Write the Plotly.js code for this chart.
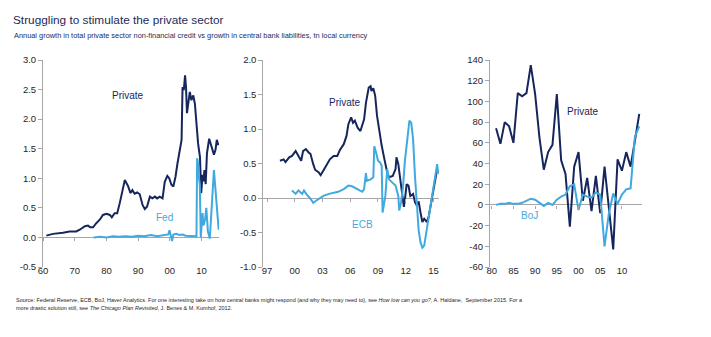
<!DOCTYPE html>
<html>
<head>
<meta charset="utf-8">
<script src="https://cdn.plot.ly/plotly-3.0.1.min.js"></script>
<style>html,body{margin:0;padding:0;background:#fff;}#chart{width:711px;height:337px;}</style>
</head>
<body>
<div id="chart"></div>
<script>
// ---------- Panel 1: US ----------
const usYears = [1961.05,1963.16,1966.3,1968.4,1970.5,1971.6,1973.2,1974.2,1974.9,1975.8,1976.8,1977.9,1978.9,1980.0,1981.1,1981.7,1982.6,1983.4,1984.2,1985.1,1985.8,1986.3,1986.8,1987.6,1988.2,1988.9,1989.7,1990.5,1991.4,1992.1,1992.8,1993.7,1994.5,1995.3,1996.0,1996.8,1997.7,1998.4,1999.2,1999.8,2000.5,2001.1,2001.8,2002.4,2003.2,2003.7,2004.0,2004.4,2004.8,2005.1,2005.4,2005.8,2006.3,2006.8,2007.4,2007.9,2008.4,2008.9,2009.5,2009.9,2010.3,2010.6,2010.9,2011.3,2011.7,2012.4,2012.9,2013.5,2013.9,2014.4,2014.8,2015.3];
const usPrivate = [0.03,0.06,0.08,0.10,0.10,0.13,0.19,0.20,0.17,0.17,0.24,0.30,0.38,0.40,0.38,0.34,0.41,0.41,0.58,0.80,0.97,0.92,0.87,0.75,0.80,0.74,0.76,0.73,0.55,0.48,0.52,0.69,0.66,0.69,0.66,0.69,0.66,0.94,1.04,1.00,0.89,0.86,1.03,1.25,1.48,1.65,2.54,2.49,2.74,2.54,2.10,2.24,2.46,2.32,2.40,2.26,1.87,1.59,1.36,0.75,1.06,0.95,1.14,0.90,1.42,1.67,1.58,1.45,1.40,1.48,1.65,1.56];
const fedYears = [1976,1978,1980,1982,1984,1986,1988,1990,1992,1994,1996,1998,1999.5,1999.9,2000.3,2000.7,2001.1,2002,2003,2004,2005,2006,2007,2008.4,2008.6,2008.9,2009.2,2009.45,2009.75,2010.0,2010.3,2010.6,2011.1,2011.5,2012.0,2012.6,2013.1,2013.6,2013.9,2014.4,2015.0,2015.4];
const fedValues = [0.0,0.01,0.0,0.02,0.01,0.02,0.01,0.03,0.02,0.04,0.02,0.03,0.05,0.12,0.0,-0.06,0.05,0.06,0.04,0.05,0.03,0.03,0.03,0.02,1.34,1.25,1.0,0.9,0.0,0.25,0.41,0.2,0.3,0.5,0.1,-0.02,0.5,0.97,1.14,0.8,0.35,0.13];
const usTickVals = [1960,1970,1980,1990,2000,2010];
const usTickText = ['60','70','80','90','00','10'];
const usYTickVals = [-0.5,0,0.5,1,1.5,2,2.5,3];
const usYTickText = ['-0.5','0.0','0.5','1.0','1.5','2.0','2.5','3.0'];

// ---------- Panel 2: Euro area ----------
const euYears = [1998.4,1998.8,1999.0,1999.4,1999.7,2000.1,2000.4,2000.7,2000.9,2001.2,2001.5,2001.7,2002.0,2002.2,2002.6,2002.8,2003.1,2003.5,2003.8,2004.2,2004.6,2004.9,2005.3,2005.6,2005.8,2006.1,2006.3,2006.5,2006.8,2007.1,2007.4,2007.5,2007.7,2008.0,2008.2,2008.3,2008.5,2008.7,2008.9,2009.2,2009.4,2009.7,2010.0,2010.2,2010.6,2010.9,2011.0,2011.2,2011.4,2011.6,2011.8,2011.9,2012.1,2012.3,2012.5,2012.8,2013.0,2013.2,2013.4,2013.6,2013.8,2014.0,2014.3,2014.5,2014.8,2015.0,2015.3,2015.4,2015.5];
const euPrivate = [0.54,0.56,0.52,0.59,0.61,0.68,0.61,0.54,0.68,0.71,0.66,0.64,0.49,0.41,0.37,0.33,0.40,0.49,0.56,0.61,0.61,0.70,0.78,0.90,1.07,1.17,1.09,1.12,1.02,0.97,1.12,1.14,1.38,1.60,1.62,1.55,1.59,1.48,1.19,0.90,0.76,0.56,0.37,0.30,0.32,0.42,0.59,0.49,0.27,0.13,-0.13,-0.04,0.20,0.18,0.03,0.06,-0.06,-0.11,-0.05,-0.21,-0.35,-0.30,-0.35,-0.26,-0.04,0.13,0.32,0.42,0.37];
const ecbYears = [1999.7,2000.1,2000.4,2000.8,2001.0,2001.3,2001.7,2002.0,2002.3,2002.7,2003.1,2003.7,2004.2,2004.7,2005.3,2005.8,2006.2,2006.7,2007.3,2007.5,2007.7,2007.8,2008.2,2008.5,2008.6,2008.8,2009.0,2009.2,2009.4,2009.5,2009.8,2010.0,2010.2,2010.5,2010.9,2011.2,2011.3,2011.5,2011.7,2011.9,2012.2,2012.4,2012.6,2012.8,2013.0,2013.2,2013.4,2013.6,2013.8,2014.0,2014.3,2014.6,2015.0,2015.2,2015.4,2015.5];
const ecbValues = [0.11,0.06,0.11,0.06,0.11,0.05,-0.01,-0.07,-0.04,-0.01,0.03,0.06,0.07,0.09,0.13,0.18,0.17,0.13,0.09,0.13,0.36,0.25,0.27,0.30,0.75,0.66,0.54,0.52,0.47,-0.21,0.03,0.42,0.27,0.23,0.18,0.03,-0.18,-0.06,0.15,0.52,0.85,1.12,1.09,0.85,0.32,-0.16,-0.47,-0.64,-0.72,-0.69,-0.45,-0.16,0.13,0.32,0.49,0.35];
const euTickVals = [1997,2000,2003,2006,2009,2012,2015];
const euTickText = ['97','00','03','06','09','12','15'];
const euYTickVals = [-1,-0.5,0,0.5,1,1.5,2];
const euYTickText = ['-1.0','-0.5','0.0','0.5','1.0','1.5','2.0'];

// ---------- Panel 3: Japan ----------
const jpYears = [1981,1982,1983,1984,1985,1986,1987,1988,1989,1990,1991,1992,1993,1994,1995,1996,1997,1998,1999,2000,2001,2002,2003,2004,2005,2006,2007,2008,2009,2010,2011,2012,2013,2014];
const jpPrivate = [74,59,80,76,60,108,105,108,135,107,65,34,51,58,107,43,30,-21,37,51,4,26,-6,28,-8,37,-3,-43,44,33,51,37,62,88];
const bojValues = [0,1,1,2,1,1,2,4,6,5,2,-1,2,0,5,8,10,18,20,-5,10,8,7,12,10,-40,-8,11,1,10,15,16,66,76];
const jpTickVals = [1980,1985,1990,1995,2000,2005,2010];
const jpTickText = ['80','85','90','95','00','05','10'];
const jpYTickVals = [-60,-40,-20,0,20,40,60,80,100,120,140];
const jpYTickText = ['-60','-40','-20','0','20','40','60','80','100','120','140'];

// ---------- Styles ----------
const NAVY = '#16265c';
const LIGHT = '#3fa9e0';
const AXIS = '#a6a6a6';
const TXT = '#262626';
const FONT = 'Liberation Sans, Arial, sans-serif';

function line(x, y, color, xa, ya) {
  return {x: x, y: y, type: 'scatter', mode: 'lines', line: {color: color, width: 2}, xaxis: xa, yaxis: ya, hoverinfo: 'skip', showlegend: false};
}

const traces = [
  line(usYears, usPrivate, NAVY, 'x', 'y'),
  line(fedYears, fedValues, LIGHT, 'x', 'y'),
  line(euYears, euPrivate, NAVY, 'x2', 'y2'),
  line(ecbYears, ecbValues, LIGHT, 'x2', 'y2'),
  line(jpYears, jpPrivate, NAVY, 'x3', 'y3'),
  line(jpYears, bojValues, LIGHT, 'x3', 'y3'),
  {x: [], y: [], type: 'scatter', xaxis: 'x4', yaxis: 'y', showlegend: false},
  {x: [], y: [], type: 'scatter', xaxis: 'x5', yaxis: 'y2', showlegend: false},
  {x: [], y: [], type: 'scatter', xaxis: 'x6', yaxis: 'y3', showlegend: false}
];

const W = 711;
const d1 = [43/W, 219/W], d2 = [263.3/W, 439/W], d3 = [490/W, 642.3/W];
const r1 = [1960, 2015.5], r2 = [1996.6, 2015.6], r3 = [1979.6, 2014.7];
const yr1 = [-0.5, 3.0], yr2 = [-1.0, 2.0], yr3 = [-60, 140];

function xax(domain, range, vals, text, anchor) {
  return {domain: domain, range: range, anchor: anchor, tickvals: vals, ticktext: text, showgrid: false, zeroline: false, showline: false, ticks: '', tickfont: {family: FONT, size: 9.5, color: TXT}, ticklabelstandoff: -4, fixedrange: true};
}
function tickax(range, vals, overlay, pos) {
  return {range: range, overlaying: overlay, anchor: 'free', position: pos, tickvals: vals, showticklabels: false, ticks: 'outside', ticklen: 3, tickcolor: AXIS, tickwidth: 1, showgrid: false, zeroline: false, showline: false};
}
function yax(range, vals, text, anchor) {
  return {range: range, anchor: anchor, tickvals: vals, ticktext: text, showgrid: false, zeroline: true, zerolinecolor: AXIS, zerolinewidth: 1, showline: true, linecolor: AXIS, linewidth: 1, ticks: 'outside', ticklen: 4, tickcolor: AXIS, tickfont: {family: FONT, size: 9.5, color: TXT}, fixedrange: true};
}
function zeroPos(r) { return (0 - r[0]) / (r[1] - r[0]); }

const layout = {
  width: 711, height: 337,
  margin: {l: 0, r: 0, t: 60, b: 70, pad: 0},
  paper_bgcolor: '#ffffff', plot_bgcolor: '#ffffff',
  showlegend: false,
  title: {text: 'Struggling to stimulate the private sector', x: 13/W, xanchor: 'left', xref: 'paper', y: 1 - 20/337, yref: 'container', yanchor: 'middle', font: {family: FONT, size: 11.8, color: '#1c2a58'}},
  xaxis: xax(d1, r1, usTickVals, usTickText, 'y'),
  xaxis2: xax(d2, r2, euTickVals, euTickText, 'y2'),
  xaxis3: xax(d3, r3, jpTickVals, jpTickText, 'y3'),
  xaxis4: tickax(r1, usTickVals, 'x', zeroPos(yr1)),
  xaxis5: tickax(r2, euTickVals, 'x2', zeroPos(yr2)),
  xaxis6: tickax(r3, jpTickVals, 'x3', zeroPos(yr3)),
  yaxis: yax(yr1, usYTickVals, usYTickText, 'x'),
  yaxis2: yax(yr2, euYTickVals, euYTickText, 'x2'),
  yaxis3: yax(yr3, jpYTickVals, jpYTickText, 'x3'),
  annotations: [
    {text: 'Annual growth in total private sector non-financial credit vs growth in central bank liabilities, tn local currency', xref: 'paper', yref: 'paper', x: 12/W, y: (267-36)/207, xanchor: 'left', yanchor: 'middle', showarrow: false, font: {family: FONT, size: 7.4, color: '#1c2a58'}},
    {text: 'Private', xref: 'x', yref: 'y', x: 1986.9, y: 2.40, showarrow: false, font: {family: FONT, size: 10, color: NAVY}},
    {text: 'Fed', xref: 'x', yref: 'y', x: 1998.4, y: 0.33, showarrow: false, font: {family: FONT, size: 10, color: LIGHT}},
    {text: 'Private', xref: 'x2', yref: 'y2', x: 2005.4, y: 1.39, showarrow: false, font: {family: FONT, size: 10, color: NAVY}},
    {text: 'ECB', xref: 'x2', yref: 'y2', x: 2007.3, y: -0.38, showarrow: false, font: {family: FONT, size: 10, color: LIGHT}},
    {text: 'Private', xref: 'x3', yref: 'y3', x: 2001.1, y: 90, showarrow: false, font: {family: FONT, size: 10, color: NAVY}},
    {text: 'BoJ', xref: 'x3', yref: 'y3', x: 1988.6, y: -10, showarrow: false, font: {family: FONT, size: 10, color: LIGHT}},
    {text: 'Source: Federal Reserve, ECB, BoJ, Haver Analytics. For one interesting take on how central banks might respond (and why they may need to), see <i>How low can you go?</i>, A. Haldane,  September 2015. For a', xref: 'paper', yref: 'paper', x: 14/W, y: (267-300)/207, xanchor: 'left', yanchor: 'middle', showarrow: false, font: {family: FONT, size: 5.5, color: TXT}},
    {text: 'more drastic solution still, see <i>The Chicago Plan Revisited</i>, J. Benes &amp; M. Kumhof, 2012.', xref: 'paper', yref: 'paper', x: 14/W, y: (267-308)/207, xanchor: 'left', yanchor: 'middle', showarrow: false, font: {family: FONT, size: 5.5, color: TXT}}
  ]
};

Plotly.newPlot('chart', traces, layout, {displayModeBar: false, staticPlot: true});
</script>
</body>
</html>
